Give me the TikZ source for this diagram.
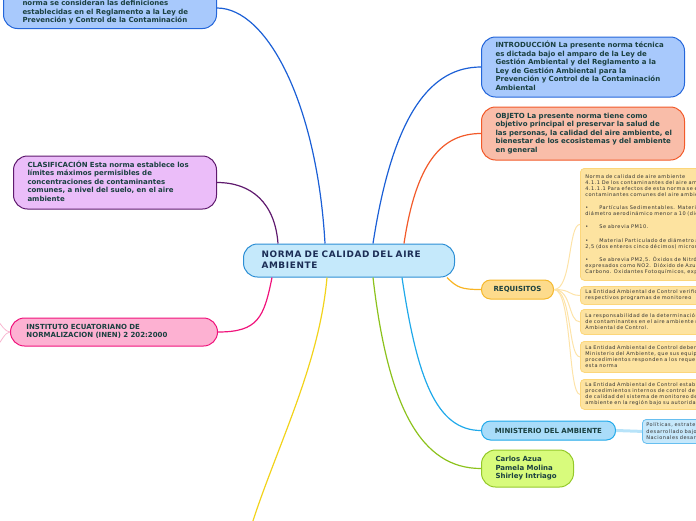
\documentclass[tikz,border=0pt]{standalone}
\usepackage{fontspec}
\setmainfont{DejaVu Sans}
\newfontfamily\cenfont[LetterSpace=7]{DejaVu Sans}
\newfontfamily\tinyfont[LetterSpace=10]{DejaVu Sans}
\definecolor{tc}{HTML}{1A4040}
\definecolor{navy}{HTML}{1B2D55}
\definecolor{blueF}{HTML}{A8C9FC}
\definecolor{blueD}{HTML}{2466DA}
\definecolor{blueC}{HTML}{1B5FD6}
\definecolor{salF}{HTML}{F9BDA9}
\definecolor{salD}{HTML}{F25A2A}
\definecolor{purF}{HTML}{EBBDF9}
\definecolor{purD}{HTML}{5F1A6E}
\definecolor{pinkF}{HTML}{FDB1D2}
\definecolor{pinkD}{HTML}{F0147C}
\definecolor{pinkL}{HTML}{F8B6D0}
\definecolor{cenF}{HTML}{C5E9FB}
\definecolor{cenD}{HTML}{2D8FD5}
\definecolor{reqF}{HTML}{FDDB8C}
\definecolor{reqD}{HTML}{F5B82C}
\definecolor{reqC}{HTML}{F8B424}
\definecolor{subF}{HTML}{FDE3A0}
\definecolor{subD}{HTML}{FCD67A}
\definecolor{subC}{HTML}{FDE3A8}
\definecolor{minF}{HTML}{A9DCF9}
\definecolor{minD}{HTML}{20A9EA}
\definecolor{minL}{HTML}{B7E3F9}
\definecolor{msF}{HTML}{C6E8FB}
\definecolor{msD}{HTML}{67BFF0}
\definecolor{limF}{HTML}{D8FB7C}
\definecolor{limD}{HTML}{95C92A}
\definecolor{limC}{HTML}{8CC21C}
\definecolor{yelC}{HTML}{F2D31B}
\definecolor{subT}{HTML}{333333}
\begin{document}
\begin{tikzpicture}[x=1pt,y=-1pt,
  conn/.style={line width=1.2pt},
  mnode/.style={rounded corners=14pt, line width=1pt, align=left, text=tc,
    font=\bfseries\fontsize{7}{8.5}\selectfont, inner xsep=14pt, inner ysep=2pt,
    text width=175pt, anchor=west},
  pill/.style={rounded corners=9pt, line width=1pt, align=center, text=tc,
    font=\bfseries\fontsize{7}{8.5}\selectfont, inner sep=0pt, minimum height=19pt, anchor=west},
  subbox/.style={rounded corners=4pt, line width=0.8pt, draw=subD, fill=subF, align=left,
    font=\tinyfont\fontsize{5}{6}\selectfont, text=subT, inner xsep=5pt, inner ysep=0pt,
    anchor=north west, text width=170pt},
  subconn/.style={line width=1pt, draw=subC}]
\useasboundingbox (0,0) rectangle (696,520);
\clip (0,0) rectangle (696,520);

% ---- nodes ----
\node[mnode, draw=cenD, fill=cenF, text=navy, inner xsep=18pt,
  font=\cenfont\bfseries\fontsize{8.9}{11}\selectfont, minimum height=33pt] (cen) at (243,260.5)
  {\begin{tabular}{@{}l@{}}NORMA DE CALIDAD DEL AIRE\\AMBIENTE\end{tabular}};

\node[mnode, draw=blueD, fill=blueF, inner xsep=19pt, inner ysep=3pt, anchor=south west] (defs) at (3,29)
  {\begin{tabular}{@{}l@{}}\rule{0pt}{40pt}norma se consideran las definiciones\\establecidas en el Reglamento a la Ley de\\Prevención y Control de la Contaminación\end{tabular}};

\node[mnode, draw=blueD, fill=blueF, minimum height=60pt] (intro) at (481,67)
  {\begin{tabular}{@{}l@{}}INTRODUCCIÓN La presente norma técnica\\es dictada bajo el amparo de la Ley de\\Gestión Ambiental y del Reglamento a la\\Ley de Gestión Ambiental para la\\Prevención y Control de la Contaminación\\Ambiental\end{tabular}};

\node[mnode, draw=salD, fill=salF, minimum height=53pt] (obj) at (481,133.5)
  {\begin{tabular}{@{}l@{}}OBJETO La presente norma tiene como\\objetivo principal el preservar la salud de\\las personas, la calidad del aire ambiente, el\\bienestar de los ecosistemas y del ambiente\\en general\end{tabular}};

\node[mnode, draw=purD, fill=purF, minimum height=53pt] (clas) at (13,182.5)
  {\begin{tabular}{@{}l@{}}CLASIFICACIÓN Esta norma establece los\\límites máximos permisibles de\\concentraciones de contaminantes\\comunes, a nivel del suelo, en el aire\\ambiente\end{tabular}};

\node[mnode, draw=pinkD, fill=pinkF, inner xsep=16pt, minimum height=28pt] (inen) at (10,332)
  {\begin{tabular}{@{}l@{}}INSTITUTO ECUATORIANO DE\\NORMALIZACION (INEN) 2 202:2000\end{tabular}};

\node[pill, draw=reqD, fill=reqF, minimum width=72pt] (req) at (481,289.5) {REQUISITOS};

\node[pill, draw=minD, fill=minF, minimum width=134pt] (min) at (481,430.5) {MINISTERIO DEL AMBIENTE};

\node[mnode, draw=limD, fill=limF, text width=64pt, inner xsep=14pt, minimum height=37pt] (carlos) at (481,468.5)
  {\begin{tabular}{@{}l@{}}Carlos Azua\\Pamela Molina\\Shirley Intriago\end{tabular}};

% sub boxes of REQUISITOS
\node[subbox, minimum height=112pt] (sa) at (580,168)
  {Norma de calidad de aire ambiente\\
   4.1.1 De los contaminantes del aire ambiente\\
   4.1.1.1 Para efectos de esta norma se establecen\\
   contaminantes comunes del aire ambiente a los\\[7.3pt]
   •\hspace{11pt}Partículas Sedimentables. Material particulado\\
   diámetro aerodinámico menor a 10 (diez) micrones\\[7.3pt]
   •\hspace{11pt}Se abrevia PM10.\\[7.3pt]
   •\hspace{11pt}Material Particulado de diámetro aerodinámico\\
   2,5 (dos enteros cinco décimos) micrones\\[7.3pt]
   •\hspace{11pt}Se abrevia PM2,5. Óxidos de Nitrógeno\\
   expresados como NO2. Dióxido de Azufre SO2\\
   Carbono. Oxidantes Fotoquímicos, expresados};
\node[subbox, minimum height=18pt] (sb) at (580,286)
  {La Entidad Ambiental de Control verificará\\respectivos programas de monitoreo};
\node[subbox, minimum height=25pt] (sc) at (580,309)
  {La responsabilidad de la determinación de las\\de contaminantes en el aire ambiente recae\\Ambiental de Control.};
\node[subbox, minimum height=31pt] (sd) at (580,341)
  {La Entidad Ambiental de Control deberá demostrar\\Ministerio del Ambiente, que sus equipos, métodos\\procedimientos responden a los requerimientos\\esta norma};
\node[subbox, minimum height=30pt] (se) at (580,379)
  {La Entidad Ambiental de Control establecerá\\procedimientos internos de control de calidad\\de calidad del sistema de monitoreo de la\\ambiente en la región bajo su autoridad};

\node[subbox, draw=msD, fill=msF, text width=130pt, inner xsep=4pt, minimum height=24pt,
  font=\tinyfont\fontsize{5}{6.5}\selectfont] (ms) at (642,419)
  {Políticas, estrategias y planes\\desarrollado bajo los\\Nacionales desarrollados};

% ---- connectors ----
\coordinate (yend) at (250,530);
\coordinate (pa) at (-3,320);
\coordinate (pb) at (-3,346);

\draw[conn, blueC] ([xshift=82pt]cen.north west) .. controls +(-8,-140) and +(50,0) .. ([yshift=21pt]defs.south east);
\draw[conn, purD] ([xshift=35pt]cen.north west) .. controls +(-3,-40) and +(35,0) .. (clas.east);
\draw[conn, blueC] ([xshift=130pt]cen.north west) .. controls +(20,-130) and +(-50,0) .. (intro.west);
\draw[conn, salD] ([xshift=161pt]cen.north west) .. controls +(12,-80) and +(-40,0) .. (obj.west);
\draw[conn, pinkD] ([xshift=29pt]cen.south west) .. controls +(-8,40) and +(40,0) .. (inen.east);
\draw[conn, yelC] ([xshift=84pt]cen.south west) .. controls +(-8,90) and +(25,-80) .. (yend);
\draw[conn, limC] ([xshift=130pt]cen.south west) .. controls +(15,130) and +(-60,0) .. (carlos.west);
\draw[conn, minD] ([xshift=159pt]cen.south west) .. controls +(15,100) and +(-45,0) .. (min.west);
\draw[conn, reqC] ([xshift=-8pt]cen.south east) .. controls +(10,10) and +(-20,0) .. (req.west);

\foreach \s in {sa,sb,sc,sd,se}
  \draw[subconn] (req.east) .. controls +(18,0) and +(-12,0) .. (\s.west);

\draw[line width=3pt, minL] (min.east) -- (ms.west);

\draw[line width=0.8pt, pinkL] (inen.west) .. controls +(-5,0) and +(4,4) .. (pa);
\draw[line width=0.8pt, pinkL] (inen.west) .. controls +(-5,0) and +(4,-4) .. (pb);
\end{tikzpicture}
\end{document}
